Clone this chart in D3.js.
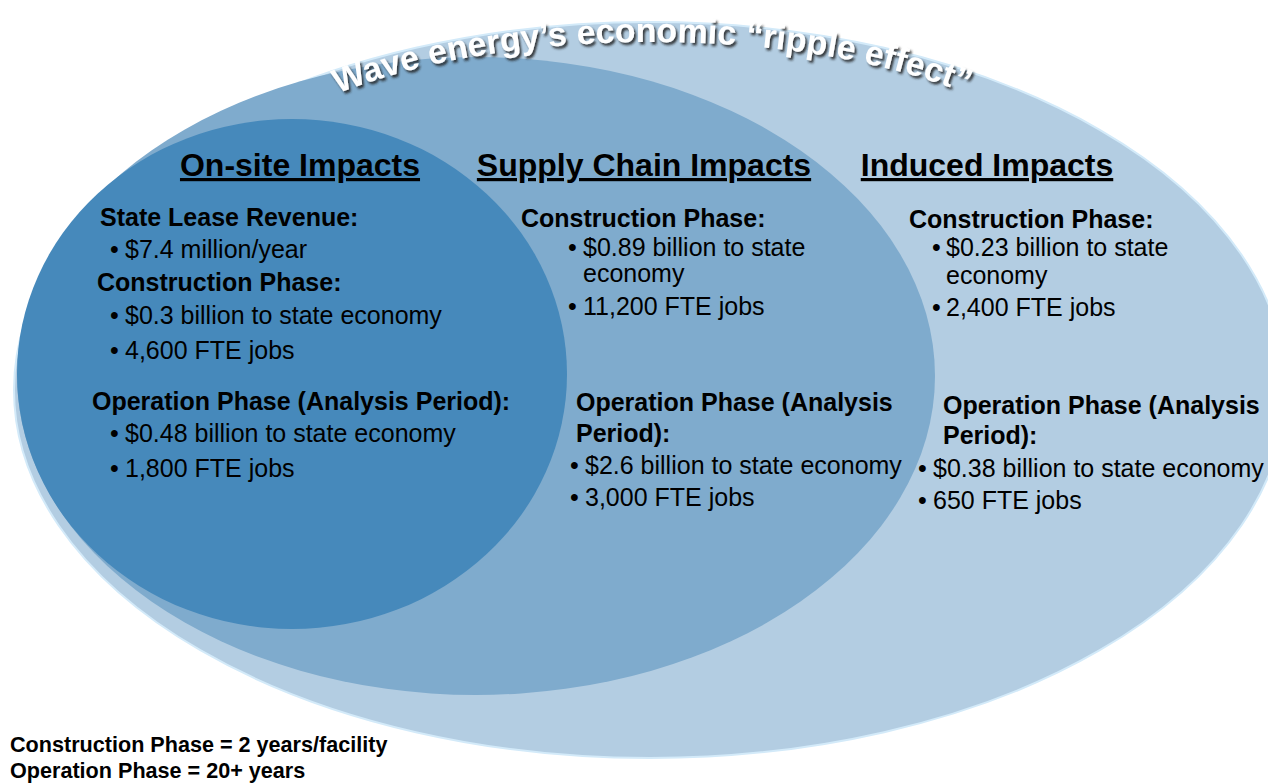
<!DOCTYPE html>
<html>
<head>
<meta charset="utf-8">
<script src="https://cdn.jsdelivr.net/npm/d3@7"></script>
<style>
  html, body { margin: 0; padding: 0; background: #fff; }
  svg { display: block; font-family: "Liberation Sans", Arial, sans-serif; }
</style>
</head>
<body>
<svg id="chart" width="1268" height="783"></svg>
<script>
// ---- text content ----
var title = "Wave energy\u2019s economic \u201Cripple effect\u201D";
var headings = ["On-site Impacts", "Supply Chain Impacts", "Induced Impacts"];
var onsite_lines = [
  ["head", "State Lease Revenue:"],
  ["bullet", "$7.4 million/year"],
  ["head", "Construction Phase:"],
  ["bullet", "$0.3 billion to state economy"],
  ["bullet", "4,600 FTE jobs"],
  ["head", "Operation Phase (Analysis Period):"],
  ["bullet", "$0.48 billion to state economy"],
  ["bullet", "1,800 FTE jobs"]
];
var supply_lines = [
  ["head", "Construction Phase:"],
  ["bullet", "$0.89 billion to state"],
  ["cont", "economy"],
  ["bullet", "11,200 FTE jobs"],
  ["head", "Operation Phase (Analysis"],
  ["head", "Period):"],
  ["bullet", "$2.6 billion to state economy"],
  ["bullet", "3,000 FTE jobs"]
];
var induced_lines = [
  ["head", "Construction Phase:"],
  ["bullet", "$0.23 billion to state"],
  ["cont", "economy"],
  ["bullet", "2,400 FTE jobs"],
  ["head", "Operation Phase (Analysis"],
  ["head", "Period):"],
  ["bullet", "$0.38 billion to state economy"],
  ["bullet", "650 FTE jobs"]
];
var footnotes = ["Construction Phase = 2 years/facility", "Operation Phase = 20+ years"];

// ---- layout (pixels) ----
var W = 1268, H = 783;
var rings = [   // outer -> inner
  {cx: 650, cy: 390, rx: 636, ry: 368, fill: "#b3cde2", stroke: "#d3eaf9"},
  {cx: 476, cy: 376, rx: 459, ry: 319, fill: "#7fabcd", stroke: "none"},
  {cx: 292, cy: 374, rx: 275, ry: 255, fill: "#4689bb", stroke: "none"}
];
// arc carrying the title (tighter than the outer ring, like the WordArt arch)
var title_arc = {cx: 652, cy: 196, rx: 420, ry: 154};
var heading_x = [300, 644, 987];
var heading_y = 176;
// per column: left x of heads, bullet x, text x, baselines
var col_layout = [
  {head: [100, 97, 92], bx: 110, tx: 125, y: [226, 258, 291, 324, 359, 410, 442, 477]},
  {head: [521, 576, 576], bx: [568, 568, 568, 570, 570], tx: [583, 583, 583, 585, 585], y: [227, 256, 282, 315, 411, 442, 474, 506]},
  {head: [909, 943, 943], bx: [932, 932, 932, 918, 918], tx: [946, 946, 946, 933, 933], y: [228, 256, 284, 316, 414, 444, 477, 509]}
];

var svg = d3.select('#chart');

svg.append('rect').attr('width', W).attr('height', H).attr('fill', '#fff');

var defs = svg.append('defs');
defs.append('filter')
    .attr('id', 'shadow')
    .attr('x', '-5%').attr('y', '-20%').attr('width', '110%').attr('height', '150%')
  .append('feDropShadow')
    .attr('dx', 2).attr('dy', 2.5)
    .attr('stdDeviation', 0.9)
    .attr('flood-color', '#222')
    .attr('flood-opacity', 0.85);

// nested ellipses
svg.append('g')
  .selectAll('ellipse')
  .data(rings)
  .enter()
  .append('ellipse')
    .attr('cx', function(d){ return d.cx; })
    .attr('cy', function(d){ return d.cy; })
    .attr('rx', function(d){ return d.rx; })
    .attr('ry', function(d){ return d.ry; })
    .attr('fill', function(d){ return d.fill; })
    .attr('stroke', function(d){ return d.stroke; })
    .attr('stroke-width', 2);

// title along an arch over the outer ring
var a = title_arc;
defs.append('path')
    .attr('id', 'title-arc')
    .attr('d', 'M' + (a.cx - a.rx) + ',' + a.cy +
               ' A' + a.rx + ',' + a.ry + ' 0 0 1 ' + (a.cx + a.rx) + ',' + a.cy);

svg.append('text')
    .attr('font-size', 34)
    .attr('font-weight', 'bold')
    .attr('fill', '#fff')
    .attr('filter', 'url(#shadow)')
  .append('textPath')
    .attr('href', '#title-arc')
    .attr('startOffset', '50%')
    .attr('text-anchor', 'middle')
    .text(title);

// column headings
svg.append('g')
  .selectAll('text')
  .data(headings)
  .enter()
  .append('text')
    .attr('x', function(d, i){ return heading_x[i]; })
    .attr('y', heading_y)
    .attr('text-anchor', 'middle')
    .attr('font-size', 32)
    .attr('font-weight', 'bold')
    .attr('fill', '#000')
    .style('text-decoration', 'underline')
    .text(function(d){ return d; });

// column bodies
function draw_column(lines, lay){
  var g = svg.append('g');
  var hi = 0, bi = 0;
  lines.forEach(function(l, i){
    var y = lay.y[i];
    if (l[0] === 'head') {
      g.append('text')
        .attr('x', lay.head[hi++]).attr('y', y)
        .attr('font-size', 25).attr('font-weight', 'bold')
        .text(l[1]);
    } else {
      var bx = Array.isArray(lay.bx) ? lay.bx[bi] : lay.bx;
      var tx = Array.isArray(lay.tx) ? lay.tx[bi] : lay.tx;
      bi++;
      if (l[0] === 'bullet') {
        g.append('text')
          .attr('x', bx).attr('y', y)
          .attr('font-size', 25)
          .text('\u2022');
      }
      g.append('text')
        .attr('x', tx).attr('y', y)
        .attr('font-size', 25)
        .text(l[1]);
    }
  });
}
draw_column(onsite_lines, col_layout[0]);
draw_column(supply_lines, col_layout[1]);
draw_column(induced_lines, col_layout[2]);

// footnotes
svg.append('g')
  .selectAll('text')
  .data(footnotes)
  .enter()
  .append('text')
    .attr('x', 10)
    .attr('y', function(d, i){ return 752 + i * 26; })
    .attr('font-size', 21.6)
    .attr('font-weight', 'bold')
    .text(function(d){ return d; });
</script>
</body>
</html>
